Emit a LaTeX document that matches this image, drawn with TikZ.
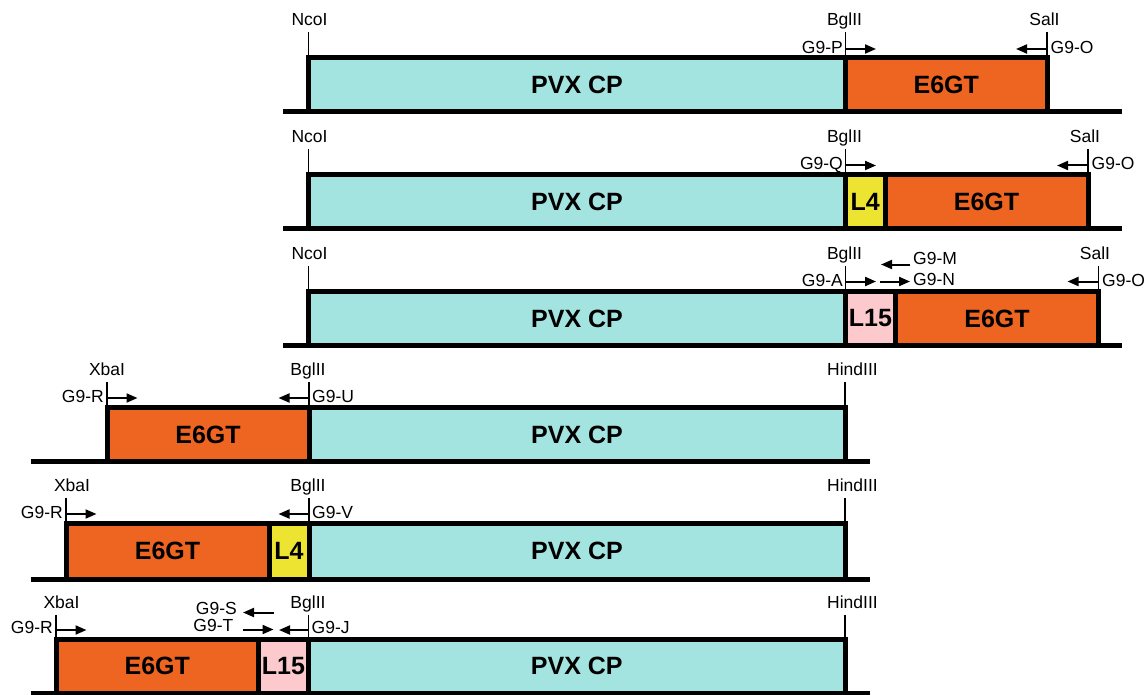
\documentclass[tikz,border=0pt]{standalone}
\usepackage{fontspec}
\setmainfont{Liberation Sans}
\usetikzlibrary{arrows.meta}
\definecolor{pvx}{HTML}{A3E4E0}
\definecolor{egt}{HTML}{EE6521}
\definecolor{lfour}{HTML}{EDE331}
\definecolor{lfift}{HTML}{FCCACC}
\tikzset{
  seg/.style={draw=black, line width=5pt, inner sep=0pt, outer sep=0pt, minimum height=54pt, font=\bfseries\fontsize{25}{27}\selectfont},
  lab/.style={font=\fontsize{17.5}{20}\selectfont, inner sep=0pt},
  site/.style={lab, anchor=base},
  pleft/.style={lab, anchor=base east},
  pright/.style={lab, anchor=base west},
  tickline/.style={line width=1.5pt},
  dnaline/.style={line width=5pt},
  primer/.style={line width=2pt, -{Triangle[length=11pt,width=9pt]}}
}
\begin{document}
\begin{tikzpicture}[x=1pt,y=-1pt]
\useasboundingbox (0,0) rectangle (1146,695);

% ---------- Row 1 (T=58, B=112)
\coordinate (r1L) at (283,112); \coordinate (r1R) at (1122,112);
\draw[dnaline] (r1L) -- (r1R);
\node[seg, fill=pvx, minimum width=537pt] (r1p) at (577,85) {PVX CP};
\node[seg, fill=egt, minimum width=201.5pt] (r1e) at (946.25,85) {E6GT};
\node[site] (r1s1) at (309.5,25.5) {NcoI};
\node[site] (r1s2) at (844.5,25.5) {BglII};
\node[site] (r1s3) at (1044.5,25.5) {SalI};
\coordinate (r1t1) at (308.5,32.5); \coordinate (r1t2) at (845.5,32.5); \coordinate (r1t3) at (1047,32.5);
\draw[tickline] (r1t1) -- (r1p.north west);
\draw[tickline] (r1t2) -- (r1e.north west);
\draw[tickline] (r1t3) -- (r1e.north east);
\node[pleft] (r1gp) at (843,53.5) {G9-P};
\node[pright] (r1go) at (1050.5,53.5) {G9-O};
\coordinate (r1a1) at (845.5,49); \coordinate (r1a2) at (876,49);
\coordinate (r1b1) at (1047,49); \coordinate (r1b2) at (1016,49);
\draw[primer] (r1a1) -- (r1a2);
\draw[primer] (r1b1) -- (r1b2);

% ---------- Row 2 (T=175, B=229)
\coordinate (r2L) at (283,229); \coordinate (r2R) at (1122,229);
\draw[dnaline] (r2L) -- (r2R);
\node[seg, fill=pvx, minimum width=537pt] (r2p) at (577,202) {PVX CP};
\node[seg, fill=lfour, minimum width=39.5pt] (r2l) at (865.25,202) {L4};
\node[seg, fill=egt, minimum width=203pt] (r2e) at (986.5,202) {E6GT};
\node[site] (r2s1) at (309.5,142.5) {NcoI};
\node[site] (r2s2) at (844.5,142.5) {BglII};
\node[site] (r2s3) at (1085,142.5) {SalI};
\coordinate (r2t1) at (308.5,149.5); \coordinate (r2t2) at (845.5,149.5); \coordinate (r2t3) at (1088,149.5);
\draw[tickline] (r2t1) -- (r2p.north west);
\draw[tickline] (r2t2) -- (r2l.north west);
\draw[tickline] (r2t3) -- (r2e.north east);
\node[pleft] (r2gq) at (843,170) {G9-Q};
\node[pright] (r2go) at (1091.5,170) {G9-O};
\coordinate (r2a1) at (845.5,165.5); \coordinate (r2a2) at (876,165.5);
\coordinate (r2b1) at (1088,165.5); \coordinate (r2b2) at (1057,165.5);
\draw[primer] (r2a1) -- (r2a2);
\draw[primer] (r2b1) -- (r2b2);

% ---------- Row 3 (T=291.5, B=345.5)
\coordinate (r3L) at (283,345.5); \coordinate (r3R) at (1122,345.5);
\draw[dnaline] (r3L) -- (r3R);
\node[seg, fill=pvx, minimum width=537pt] (r3p) at (577,318.5) {PVX CP};
\node[seg, fill=lfift, minimum width=50pt] (r3l) at (870.5,318.5) {L15};
\node[seg, fill=egt, minimum width=203pt] (r3e) at (997,318.5) {E6GT};
\node[site] (r3s1) at (309.5,259) {NcoI};
\node[site] (r3s2) at (844.5,259) {BglII};
\node[site] (r3s3) at (1095,259) {SalI};
\coordinate (r3t1) at (308.5,266); \coordinate (r3t2) at (845.5,266); \coordinate (r3t3) at (1098.5,266);
\draw[tickline] (r3t1) -- (r3p.north west);
\draw[tickline] (r3t2) -- (r3l.north west);
\draw[tickline] (r3t3) -- (r3e.north east);
\node[pleft] (r3ga) at (843,286.5) {G9-A};
\node[pright] (r3gm) at (913,265) {G9-M};
\node[pright] (r3gn) at (913,285) {G9-N};
\node[pright] (r3go) at (1102,286.5) {G9-O};
\coordinate (r3a1) at (845.5,281.5); \coordinate (r3a2) at (876,281.5);
\coordinate (r3m1) at (910,264.5); \coordinate (r3m2) at (881,264.5);
\coordinate (r3n1) at (880,281.5); \coordinate (r3n2) at (910,281.5);
\coordinate (r3b1) at (1098.5,281.5); \coordinate (r3b2) at (1067.5,281.5);
\draw[primer] (r3a1) -- (r3a2);
\draw[primer] (r3m1) -- (r3m2);
\draw[primer] (r3n1) -- (r3n2);
\draw[primer] (r3b1) -- (r3b2);

% ---------- Row 4 (T=407.5, B=461.5)
\coordinate (r4L) at (30.5,461.5); \coordinate (r4R) at (870,461.5);
\draw[dnaline] (r4L) -- (r4R);
\node[seg, fill=egt, minimum width=202pt] (r4e) at (208,434.5) {E6GT};
\node[seg, fill=pvx, minimum width=536pt] (r4p) at (577,434.5) {PVX CP};
\node[site] (r4s1) at (107,375) {XbaI};
\node[site] (r4s2) at (308,375) {BglII};
\node[site] (r4s3) at (852.5,375) {HindIII};
\coordinate (r4t1) at (107,382); \coordinate (r4t2) at (309,382); \coordinate (r4t3) at (845,382);
\draw[tickline] (r4t1) -- (r4e.north west);
\draw[tickline] (r4t2) -- (r4p.north west);
\draw[tickline] (r4t3) -- (r4p.north east);
\node[pleft] (r4gr) at (104,402.5) {G9-R};
\node[pright] (r4gu) at (312,402.5) {G9-U};
\coordinate (r4a1) at (107,398); \coordinate (r4a2) at (137.5,398);
\coordinate (r4b1) at (309,398); \coordinate (r4b2) at (278.5,398);
\draw[primer] (r4a1) -- (r4a2);
\draw[primer] (r4b1) -- (r4b2);

% ---------- Row 5 (T=523.5, B=579)
\coordinate (r5L) at (30.5,579); \coordinate (r5R) at (870,579);
\draw[dnaline] (r5L) -- (r5R);
\node[seg, fill=egt, minimum width=203pt, minimum height=55.5pt] (r5e) at (167.5,551.25) {E6GT};
\node[seg, fill=lfour, minimum width=40pt, minimum height=55.5pt] (r5l) at (289,551.25) {L4};
\node[seg, fill=pvx, minimum width=536pt, minimum height=55.5pt] (r5p) at (577,551.25) {PVX CP};
\node[site] (r5s1) at (72,491) {XbaI};
\node[site] (r5s2) at (308,491) {BglII};
\node[site] (r5s3) at (852.5,491) {HindIII};
\coordinate (r5t1) at (66,498); \coordinate (r5t2) at (309,498); \coordinate (r5t3) at (845,498);
\draw[tickline] (r5t1) -- (r5e.north west);
\draw[tickline] (r5t2) -- (r5p.north west);
\draw[tickline] (r5t3) -- (r5p.north east);
\node[pleft] (r5gr) at (63,518.5) {G9-R};
\node[pright] (r5gv) at (312,518.5) {G9-V};
\coordinate (r5a1) at (66,514); \coordinate (r5a2) at (96.5,514);
\coordinate (r5b1) at (309,514); \coordinate (r5b2) at (278.5,514);
\draw[primer] (r5a1) -- (r5a2);
\draw[primer] (r5b1) -- (r5b2);

% ---------- Row 6 (T=639.5, B=693)
\coordinate (r6L) at (30.5,693); \coordinate (r6R) at (870,693);
\draw[dnaline] (r6L) -- (r6R);
\node[seg, fill=egt, minimum width=202.5pt, minimum height=53.5pt] (r6e) at (157.25,666.25) {E6GT};
\node[seg, fill=lfift, minimum width=50pt, minimum height=53.5pt] (r6l) at (283.5,666.25) {L15};
\node[seg, fill=pvx, minimum width=536.5pt, minimum height=53.5pt] (r6p) at (576.75,666.25) {PVX CP};
\node[site] (r6s1) at (61.5,608) {XbaI};
\node[site] (r6s2) at (308,608) {BglII};
\node[site] (r6s3) at (852.5,608) {HindIII};
\coordinate (r6t1) at (56,614.5); \coordinate (r6t2) at (308.5,614.5); \coordinate (r6t3) at (845,614.5);
\draw[tickline] (r6t1) -- (r6e.north west);
\draw[tickline] (r6t2) -- (r6p.north west);
\draw[tickline] (r6t3) -- (r6p.north east);
\node[pleft] (r6gr) at (53,633.5) {G9-R};
\node[pleft] (r6gs) at (237,614) {G9-S};
\node[pleft] (r6gt) at (233.5,631) {G9-T};
\node[pright] (r6gj) at (311.5,633.5) {G9-J};
\coordinate (r6a1) at (56,630); \coordinate (r6a2) at (86.5,630);
\coordinate (r6s1a) at (273.5,612.5); \coordinate (r6s2a) at (243,612.5);
\coordinate (r6u1) at (243,629.5); \coordinate (r6u2) at (273.5,629.5);
\coordinate (r6b1) at (308.5,630); \coordinate (r6b2) at (279,630);
\draw[primer] (r6a1) -- (r6a2);
\draw[primer] (r6s1a) -- (r6s2a);
\draw[primer] (r6u1) -- (r6u2);
\draw[primer] (r6b1) -- (r6b2);
\end{tikzpicture}
\end{document}
